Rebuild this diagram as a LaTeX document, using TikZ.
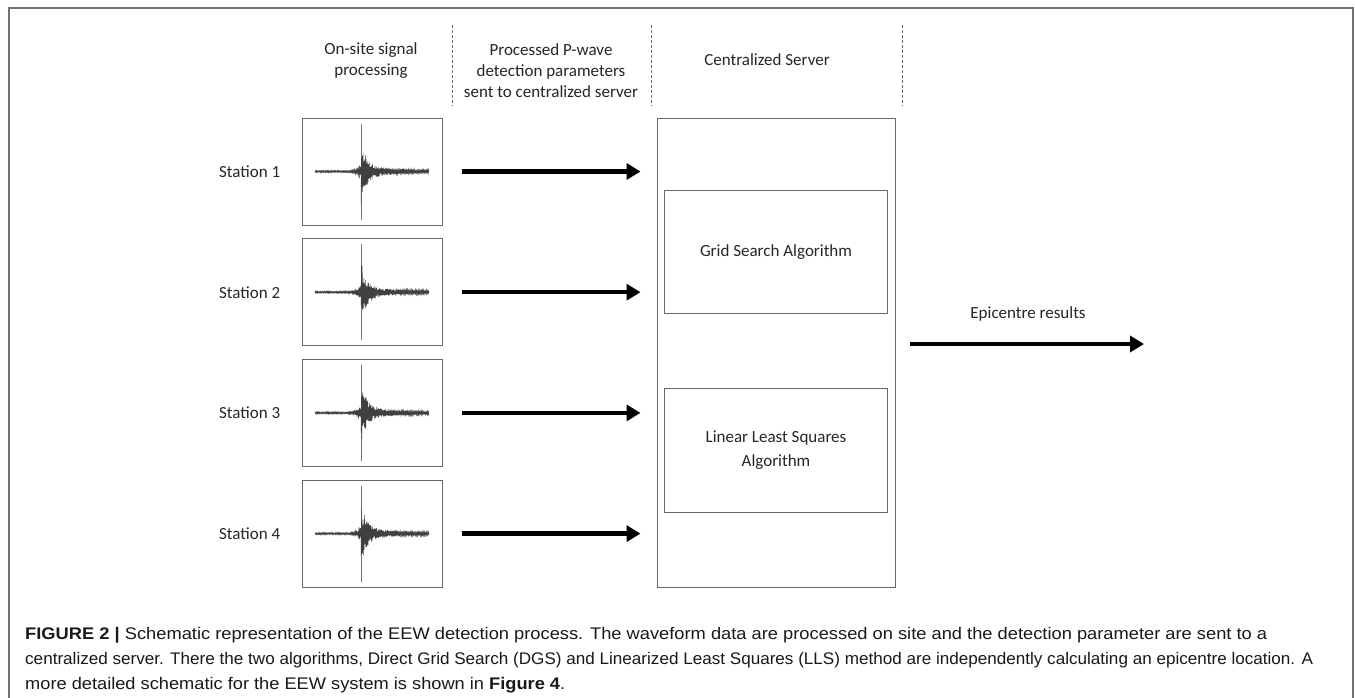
\documentclass[tikz,border=0pt]{standalone}
\usepackage{fontspec}
\usepackage{graphicx}
\setmainfont{Carlito}
\newfontfamily\capfont{Liberation Sans}
\usetikzlibrary{arrows.meta,positioning}

\begin{document}
\begin{tikzpicture}[x=1pt,y=-1pt,
  lbl/.style={inner sep=0pt,text=black!85,font=\fontsize{17}{21}\selectfont,align=center},
  stationbox/.style={draw=black!60,line width=1pt,minimum width=140pt,minimum height=107pt,inner sep=0pt},
  algobox/.style={draw=black!60,line width=1pt,minimum width=223pt,minimum height=123.5pt,inner sep=0pt,
    text=black!85,font=\fontsize{17}{24}\selectfont,align=center},
  bigarrow/.style={line width=4.5pt,-{Triangle[length=14pt,width=16pt]}},
  divider/.style={draw=black!60,line width=0.8pt,dash pattern=on 3pt off 2pt},
  wave/.style={black!75,line width=0.45pt},
  capline/.style={inner sep=0pt,anchor=base west,text=black!90,font=\capfont\fontsize{16.8}{20}\selectfont}]
\path[fill=white,use as bounding box] (0,0) rectangle (1355,697);
\draw[black!55,line width=1.5pt] (9,700) -- (9,8) -- (1353,8) -- (1353,700);

\draw[divider] (452,25) -- (452,106);
\draw[divider] (651,25) -- (651,106);
\draw[divider] (902,25) -- (902,106);
\node[lbl] (hdsig) at (371,61) {On-site signal\\processing};
\node[lbl] (hdsend) at (551,71) {Processed P-wave\\detection parameters\\sent to centralized server};
\node[lbl] (hdserv) at (767,60) {Centralized Server};

\node[draw=black!60,line width=1pt,minimum width=238pt,minimum height=469pt,inner sep=0pt] (server) at (776,352.5) {};
\node[algobox] (grid) at (776,252) {Grid Search Algorithm};
\node[algobox] (lls) at (776,450.5) {Linear Least Squares\\Algorithm};

\pgfmathsetseed{7}
\foreach \k in {1,...,4}{
  \node[stationbox] (st\k) at (372,{171.5+120.7*(\k-1)}) {};
  \node[lbl,left=21pt of st\k] (lab\k) {Station \k};
  \begin{scope}[shift={(361,{171.5+120.7*(\k-1)})}]
    \draw[wave] plot[domain=-46:0,samples=116] (\x,{(1+6*exp(min(0,(\x+2)/2.5)))*cos(90*mod(5*\x,4))*(0.4+0.6*rnd)});
    \draw[black!55,line width=0.9pt] (0,-48) -- (0,48);
    \draw[wave] plot[domain=0:68,samples=171] (\x,{(1.5+26*exp(-\x/5)+6*exp(-\x/25))*cos(90*mod(5*\x,4))*(0.4+0.6*rnd)});
  \end{scope}
  \draw[bigarrow,shorten <=19pt,shorten >=16pt] (st\k.east) -- (st\k.east -| server.west);
}

\coordinate (res) at (1144,344);
\draw[bigarrow,shorten <=14pt] (server.east |- res) -- (res);
\node[lbl] (reslbl) at (1028,314) {Epicentre results};

\node[capline] (cap1) at (25,639) {\resizebox{1242pt}{\height}{\textbf{FIGURE 2 |} Schematic representation of the EEW detection process. The waveform data are processed on site and the detection parameter are sent to a}};
\node[capline] (cap2) at (25,664) {\resizebox{1288pt}{\height}{centralized server. There the two algorithms, Direct Grid Search (DGS) and Linearized Least Squares (LLS) method are independently calculating an epicentre location. A}};
\node[capline] (cap3) at (25,689) {\resizebox{540pt}{\height}{more detailed schematic for the EEW system is shown in \textbf{Figure 4}.}};
\end{tikzpicture}
\end{document}
